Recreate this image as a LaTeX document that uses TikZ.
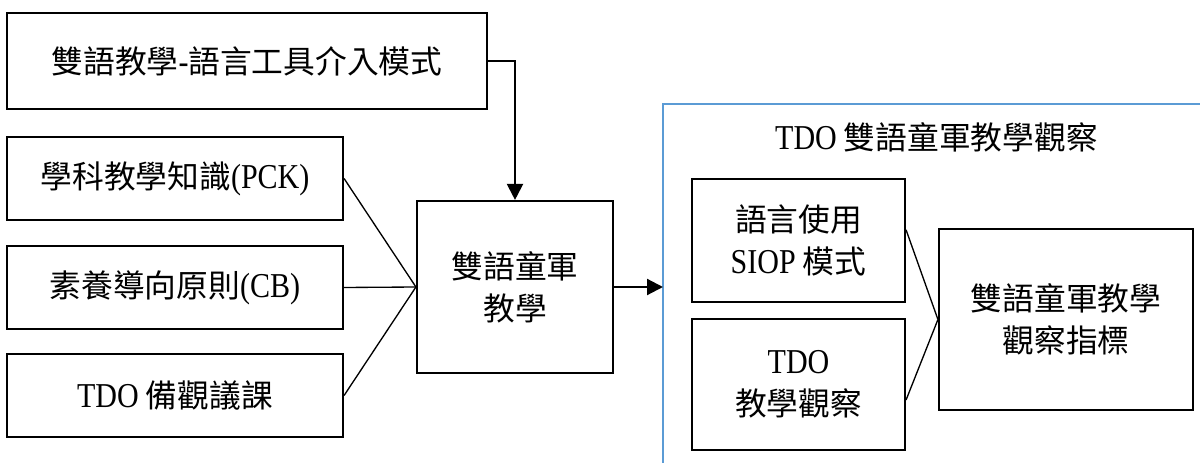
\documentclass[tikz,border=0pt]{standalone}
\usepackage{fontspec}
\setmainfont{Noto Sans CJK TC}
\newfontfamily\lat[FakeStretch=0.86,Scale=1.1]{Liberation Serif}
\usetikzlibrary{arrows.meta}
\definecolor{frameblue}{RGB}{91,155,213}
\begin{document}
\begin{tikzpicture}[x=0.75pt,y=-0.75pt]
  \tikzstyle{box}=[draw,line width=1.6pt,align=center,inner sep=0pt,
    font=\fontsize{23.8}{31.5}\selectfont]
  \tikzstyle{side box}=[box,minimum width=252pt,minimum height=62.25pt]
  \tikzstyle{obs box}=[box,minimum width=159.75pt]
  \tikzstyle{link}=[line width=1pt]
  \tikzstyle{flow arrow}=[line width=1.6pt,-{Triangle[length=12pt,width=12pt]}]

  \useasboundingbox (0,0) rectangle (1200,463);

  % left column
  \node(tool)[box,minimum width=360pt,minimum height=72pt] at (247,61)
    {雙語教學{\lat -}語言工具介入模式};
  \node(pck)[side box] at (175,178.5){學科教學知識{\lat (PCK)}};
  \node(cb)[side box] at (175,287.5){素養導向原則{\lat (CB)}};
  \node(tdo)[side box] at (175,395.5){{\lat TDO} 備觀議課};

  \node(mid)[box,minimum width=147pt,minimum height=129pt] at (515,287)
    {雙語童軍\\教學};

  % observation frame
  \draw[frameblue,line width=1.3pt] (1200,104) -- (663,104) -- (663,463);
  \coordinate(framein) at (663,287);
  \node(title)[font=\fontsize{23.8}{31.5}\selectfont] at (936.5,137)
    {{\lat TDO} 雙語童軍教學觀察};
  \node(siop)[obs box,minimum height=92.25pt] at (798.5,240.5)
    {語言使用\\{\lat SIOP} 模式};
  \node(tdoobs)[obs box,minimum height=98.25pt] at (798.5,384.5)
    {{\lat TDO}\\教學觀察};
  \node(index)[box,minimum width=190.5pt,minimum height=135.75pt] at (1066,319.5)
    {雙語童軍教學\\觀察指標};

  \draw[flow arrow] (tool.east) -| (mid.north);
  \draw[link] (pck.east) -- (mid.west);
  \draw[link] (cb.east) -- (mid.west);
  \draw[link] (tdo.east) -- (mid.west);
  \draw[flow arrow] (mid.east) -- (framein);
  \draw[link] ([yshift=8pt]siop.east) -- (index.west);
  \draw[link] ([yshift=-11.6pt]tdoobs.east) -- (index.west);
\end{tikzpicture}
\end{document}
